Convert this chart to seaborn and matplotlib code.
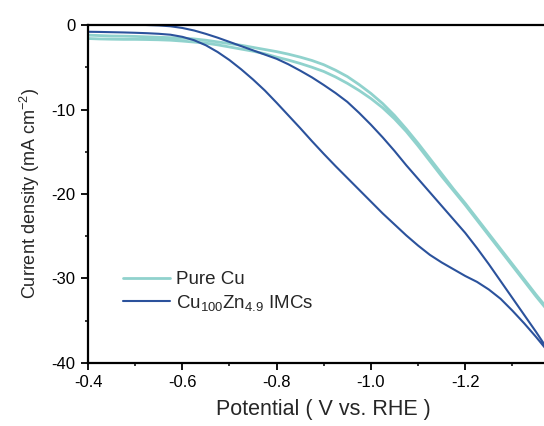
import numpy as np
import pandas as pd
import matplotlib
matplotlib.use("Agg")
import matplotlib.pyplot as plt
import seaborn as sns
from matplotlib.ticker import MultipleLocator

# potential grid (V vs. RHE)
potential = [-0.400, -0.425, -0.450, -0.475, -0.500, -0.525, -0.550, -0.575,
             -0.600, -0.625, -0.650, -0.675, -0.700, -0.725, -0.750, -0.775,
             -0.800, -0.825, -0.850, -0.875, -0.900, -0.925, -0.950, -0.975,
             -1.000, -1.025, -1.050, -1.075, -1.100, -1.125, -1.150, -1.175,
             -1.200, -1.225, -1.250, -1.275, -1.300, -1.325, -1.350, -1.375]

# Pure Cu, forward / backward sweep (mA cm-2)
cu_fwd = [-1.60, -1.65, -1.68, -1.70, -1.70, -1.72, -1.75, -1.80,
          -1.90, -2.02, -2.15, -2.35, -2.60, -2.85, -3.10, -3.40,
          -3.80, -4.15, -4.55, -5.00, -5.50, -6.15, -6.90, -7.75,
          -8.70, -9.80, -11.10, -12.60, -14.30, -16.10, -17.90, -19.60,
          -21.30, -23.10, -24.90, -26.70, -28.50, -30.30, -32.10, -33.80]
cu_back = [-1.20, -1.25, -1.30, -1.32, -1.35, -1.40, -1.45, -1.50,
           -1.55, -1.65, -1.80, -2.00, -2.20, -2.40, -2.65, -2.90,
           -3.15, -3.45, -3.80, -4.20, -4.70, -5.35, -6.10, -7.05,
           -8.10, -9.30, -10.70, -12.30, -14.00, -15.80, -17.60, -19.40,
           -21.10, -22.90, -24.70, -26.50, -28.30, -30.10, -31.90, -33.60]

# Cu100Zn4.9 IMCs, forward / backward sweep (mA cm-2)
cuzn_fwd = [-0.80, -0.82, -0.85, -0.88, -0.92, -0.97, -1.04, -1.15,
            -1.40, -1.80, -2.40, -3.20, -4.15, -5.25, -6.45, -7.75,
            -9.20, -10.70, -12.20, -13.75, -15.25, -16.70, -18.10, -19.50,
            -20.90, -22.30, -23.60, -24.90, -26.10, -27.20, -28.10, -28.90,
            -29.70, -30.40, -31.30, -32.40, -33.80, -35.30, -36.90, -38.60]
cuzn_back = [0.40, 0.30, 0.20, 0.10, 0.05, 0.00, -0.05, -0.15,
             -0.35, -0.65, -1.05, -1.50, -2.00, -2.50, -3.00, -3.50,
             -4.00, -4.65, -5.40, -6.20, -7.10, -8.05, -9.10, -10.40,
             -11.80, -13.30, -14.90, -16.60, -18.20, -19.80, -21.40, -23.00,
             -24.60, -26.40, -28.30, -30.30, -32.30, -34.30, -36.30, -38.40]

labels = ["Pure Cu", "Cu$_{100}$Zn$_{4.9}$ IMCs"]
colors = ["#90d2cd", "#2b529c"]


def loop(fwd, back):
    # forward sweep then the return sweep, drawn as one curve
    x = potential + potential[::-1]
    y = fwd + back[::-1]
    return pd.DataFrame({"E": x, "j": y})


sns.set_style("ticks")
plt.rcParams["font.family"] = ["Liberation Sans", "DejaVu Sans"]
plt.rcParams["mathtext.fontset"] = "custom"
plt.rcParams["mathtext.rm"] = "Liberation Sans"
plt.rcParams["mathtext.it"] = "Liberation Sans"

fig = plt.figure(figsize=(5.44, 4.26), dpi=100)
ax = fig.add_axes([0.1618, 0.1479, 0.8667, 0.7934])

sns.lineplot(data=loop(cu_fwd, cu_back), x="E", y="j", sort=False, estimator=None,
             color=colors[0], lw=2.0, label=labels[0], ax=ax)
sns.lineplot(data=loop(cuzn_fwd, cuzn_back), x="E", y="j", sort=False, estimator=None,
             color=colors[1], lw=1.5, label=labels[1], ax=ax)

ax.set_xlim(-0.4, -1.4)
ax.set_ylim(-40, 0)
ax.xaxis.set_minor_locator(MultipleLocator(0.1))
ax.yaxis.set_minor_locator(MultipleLocator(5))
ax.set_xticks([-0.4, -0.6, -0.8, -1.0, -1.2])
ax.set_xticklabels(["-0.4", "-0.6", "-0.8", "-1.0", "-1.2"])
ax.set_yticks([0, -10, -20, -30, -40])
ax.set_yticklabels(["0", "-10", "-20", "-30", "-40"])

ax.tick_params(which="major", direction="out", length=5, width=1.3, labelsize=12,
               colors="black", pad=4)
ax.tick_params(which="minor", direction="out", length=2.5, width=1.3)
for side in ["left", "bottom", "top", "right"]:
    ax.spines[side].set_linewidth(1.6)
    ax.spines[side].set_color("black")

ax.set_xlabel("Potential ( V vs. RHE )", fontsize=15.5, labelpad=6)
ax.set_ylabel("Current density (mA cm$^{-2}$)", fontsize=13, labelpad=7)

ax.legend(loc="upper left", bbox_to_anchor=(0.074, 0.272), frameon=False, fontsize=13.5,
          handlelength=2.5, handletextpad=0.35, labelspacing=0.25, borderpad=0,
          borderaxespad=0)

fig.savefig("out.png", dpi=100)
